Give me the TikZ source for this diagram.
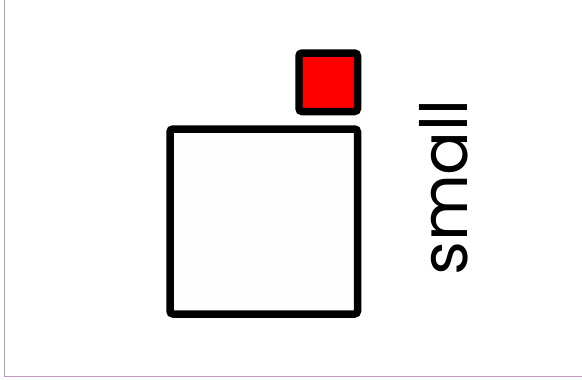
\documentclass[tikz,border=0pt]{standalone}
\usepackage{fontspec}
\setmainfont{Poppins}
\begin{document}
\begin{tikzpicture}[x=1pt,y=-1pt,
  box/.style={draw=black,line width=7.5pt,rounded corners=3pt},
  frameline/.style={draw={rgb,255:red,190;green,155;blue,190},line width=1.5pt}]
\useasboundingbox (0,0) rectangle (582,380);
\fill[white] (0,0) rectangle (582,380);
\coordinate (ftop) at (4.5,0);
\coordinate (fcorner) at (4.5,376.5);
\coordinate (fright) at (582,376.5);
\draw[frameline] (ftop) -- (fcorner) -- (fright);
\path[box,fill={rgb,255:red,253;green,253;blue,253}] (170,129) rectangle (357.5,314) node[pos=0.5] (big) {};
\path[box,fill=red] (299,53) rectangle (357.5,111.5) node[pos=0.5] (small) {};
\node[rotate=90,anchor=base,inner sep=0pt,font=\fontsize{65}{65}\selectfont] (lbl) at (467,187.5) {small};
\end{tikzpicture}
\end{document}
